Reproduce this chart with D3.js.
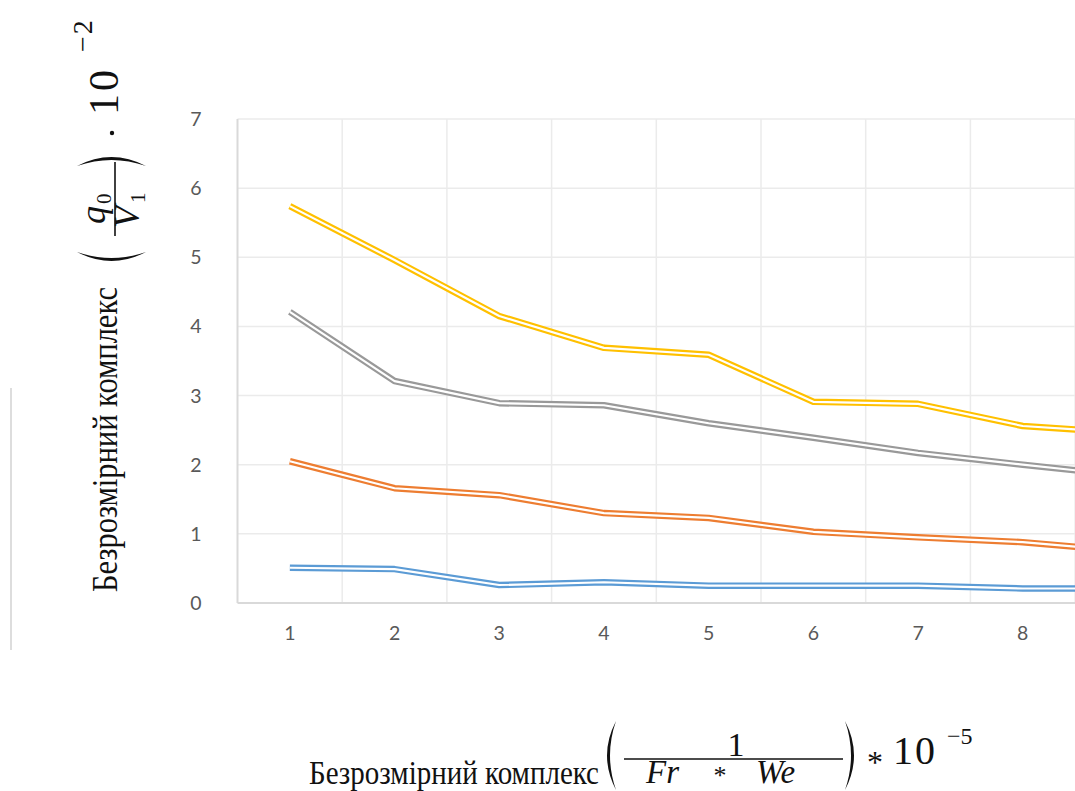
<html>
<head>
<meta charset="utf-8">
<style>
    body {
        margin: 0;
        background: #ffffff;
    }
    .tick-label {
        font-family: Lato, "Open Sans", sans-serif;
        font-size: 19.5px;
        fill: #595959;
    }
    .title {
        font-family: "Liberation Serif", "Times New Roman", serif;
        fill: #111111;
    }
    .math {
        font-family: "Liberation Serif", "Times New Roman", serif;
        font-style: italic;
        fill: #111111;
    }
</style>
</head>
<body>
<svg id="chart"></svg>
<script src="https://cdn.jsdelivr.net/npm/d3@7"></script>
<script>
    // values (units of 10^-2)
    let categories = [1, 2, 3, 4, 5, 6, 7, 8, 9];
    let blueValues = [0.51, 0.49, 0.26, 0.30, 0.25, 0.25, 0.25, 0.21, 0.21];
    let orangeValues = [2.05, 1.66, 1.56, 1.30, 1.23, 1.03, 0.95, 0.88, 0.75];
    let grayValues = [4.21, 3.21, 2.89, 2.86, 2.60, 2.39, 2.17, 2.00, 1.84];
    let yellowValues = [5.74, 4.96, 4.15, 3.69, 3.59, 2.91, 2.88, 2.56, 2.46];
    let yTicks = [0, 1, 2, 3, 4, 5, 6, 7];

    let seriesList = [
        {name: "blue", values: blueValues, color: "#5b9bd5"},
        {name: "orange", values: orangeValues, color: "#ed7d31"},
        {name: "gray", values: grayValues, color: "#999999"},
        {name: "yellow", values: yellowValues, color: "#ffc000"}
    ];

    function getConfig() {
        let width = 1075;
        let height = 791;
        let plot = {left: 237.5, top: 119, bottom: 603, step: 104.7};
        let container = d3.select("#chart")
            .attr("width", width)
            .attr("height", height)
            .style("display", "block");
        return {width, height, plot, container};
    }

    function getScales(config) {
        let {plot} = config;
        let xScale = d3.scaleBand()
            .domain(categories)
            .range([plot.left, plot.left + plot.step * categories.length]);
        let yScale = d3.scaleLinear()
            .domain([0, 7])
            .range([plot.bottom, plot.top]);
        return {xScale, yScale};
    }

    function drawGrid(scales, config) {
        let {xScale, yScale} = scales;
        let {container, plot} = config;
        let grid = container.append("g");

        grid.selectAll(".hgrid")
            .data(yTicks.filter(t => t > 0))
            .enter().append("line")
            .attr("x1", plot.left)
            .attr("x2", config.width)
            .attr("y1", d => yScale(d))
            .attr("y2", d => yScale(d))
            .attr("stroke", "#ebebeb")
            .attr("stroke-width", 1.5);

        grid.selectAll(".vgrid")
            .data(categories.slice(1))
            .enter().append("line")
            .attr("x1", d => xScale(d))
            .attr("x2", d => xScale(d))
            .attr("y1", plot.top)
            .attr("y2", plot.bottom)
            .attr("stroke", "#ebebeb")
            .attr("stroke-width", 1.5);

        // axis lines
        grid.append("line")
            .attr("x1", plot.left).attr("x2", plot.left)
            .attr("y1", plot.top).attr("y2", plot.bottom)
            .attr("stroke", "#d9d9d9").attr("stroke-width", 2);
        grid.append("line")
            .attr("x1", plot.left).attr("x2", config.width)
            .attr("y1", plot.bottom).attr("y2", plot.bottom)
            .attr("stroke", "#d9d9d9").attr("stroke-width", 2);
    }

    function drawTickLabels(scales, config) {
        let {xScale, yScale} = scales;
        let {container} = config;
        let xCenter = d => xScale(d) + xScale.bandwidth() / 2;

        container.append("g").selectAll("text")
            .data(yTicks)
            .enter().append("text")
            .attr("class", "tick-label")
            .attr("x", 196)
            .attr("y", d => yScale(d))
            .attr("dy", "0.36em")
            .attr("text-anchor", "middle")
            .text(d => d);

        // the last category sits past the right edge of the page
        container.append("g").selectAll("text")
            .data(categories.filter(d => xCenter(d) < config.width))
            .enter().append("text")
            .attr("class", "tick-label")
            .attr("x", xCenter)
            .attr("y", 633)
            .attr("dy", "0.36em")
            .attr("text-anchor", "middle")
            .text(d => d);
    }

    function drawLines(scales, config) {
        let {xScale, yScale} = scales;
        let {container} = config;
        let line = d3.line()
            .x((d, i) => xScale(categories[i]) + xScale.bandwidth() / 2)
            .y(d => yScale(d));

        let groups = container.append("g").selectAll("g")
            .data(seriesList)
            .enter().append("g");

        // double line: coloured band with a white core
        groups.append("path")
            .attr("d", d => line(d.values))
            .attr("fill", "none")
            .attr("stroke", d => d.color)
            .attr("stroke-width", 6.5)
            .attr("stroke-linejoin", "round");
        groups.append("path")
            .attr("d", d => line(d.values))
            .attr("fill", "none")
            .attr("stroke", "#ffffff")
            .attr("stroke-width", 2.2)
            .attr("stroke-linejoin", "round");
    }

    // thin crescent-shaped bracket; dir = +1 for "(", -1 for ")"
    function bracket(g, xTip, yTop, yBottom, bulge, dir) {
        let mid = (yTop + yBottom) / 2;
        let p = d3.path();
        p.moveTo(xTip, yTop);
        p.quadraticCurveTo(xTip - dir * bulge * 2, mid, xTip, yBottom);
        p.quadraticCurveTo(xTip - dir * (bulge * 2 - 6), mid, xTip, yTop);
        p.closePath();
        g.append("path").attr("d", p.toString()).attr("fill", "#111");
    }

    function drawXTitle(config) {
        let g = config.container.append("g");
        g.append("text").attr("class", "title")
            .attr("transform", "translate(309,784) scale(1,1.18)")
            .style("font-size", "29px")
            .text("Безрозмірний комплекс");
        bracket(g, 616, 721, 790, 9, 1);
        g.append("text").attr("class", "title")
            .attr("x", 736).attr("y", 756)
            .attr("text-anchor", "middle")
            .style("font-size", "34px")
            .text("1");
        g.append("line")
            .attr("x1", 624).attr("x2", 843)
            .attr("y1", 759).attr("y2", 759)
            .attr("stroke", "#111").attr("stroke-width", 1.6);
        g.append("text").attr("class", "math")
            .attr("x", 646).attr("y", 783)
            .style("font-size", "33px")
            .text("Fr");
        g.append("text").attr("class", "title")
            .attr("x", 720).attr("y", 784)
            .attr("text-anchor", "middle")
            .style("font-size", "26px")
            .text("*");
        g.append("text").attr("class", "math")
            .attr("x", 756).attr("y", 783)
            .style("font-size", "33px")
            .text("We");
        bracket(g, 845, 721, 790, 9, -1);
        g.append("text").attr("class", "title")
            .attr("x", 875).attr("y", 773)
            .attr("text-anchor", "middle")
            .style("font-size", "32px")
            .text("*");
        g.append("text").attr("class", "title")
            .attr("x", 893).attr("y", 764)
            .style("font-size", "40px")
            .style("letter-spacing", "2px")
            .text("10");
        g.append("text").attr("class", "title")
            .attr("x", 947).attr("y", 744)
            .style("font-size", "24px")
            .text("−5");
    }

    function drawYTitle(config) {
        // drawn horizontally, then turned upright along the left edge
        let g = config.container.append("g")
            .attr("transform", "translate(117,592) rotate(-90)");
        g.append("text").attr("class", "title")
            .attr("transform", "scale(1,1.2)")
            .style("font-size", "30.5px")
            .text("Безрозмірний комплекс");
        bracket(g, 340, -40, 29, 9, 1);
        g.append("text").attr("class", "math")
            .attr("x", 368).attr("y", -12)
            .style("font-size", "36px")
            .text("q");
        g.append("text").attr("class", "title")
            .attr("x", 388).attr("y", -6)
            .style("font-size", "21px")
            .text("0");
        g.append("line")
            .attr("x1", 356).attr("x2", 430)
            .attr("y1", -2).attr("y2", -2)
            .attr("stroke", "#111").attr("stroke-width", 1.6);
        g.append("text").attr("class", "math")
            .attr("x", 364).attr("y", 22)
            .style("font-size", "36px")
            .text("V");
        g.append("text").attr("class", "title")
            .attr("x", 389).attr("y", 28)
            .style("font-size", "21px")
            .text("1");
        bracket(g, 426, -40, 29, 9, -1);
        g.append("circle")
            .attr("cx", 459).attr("cy", -5).attr("r", 2.2)
            .attr("fill", "#111");
        g.append("text").attr("class", "title")
            .attr("x", 477).attr("y", 1)
            .style("font-size", "42px")
            .style("letter-spacing", "3px")
            .text("10");
        g.append("text").attr("class", "title")
            .attr("x", 540).attr("y", -25)
            .style("font-size", "28px")
            .style("letter-spacing", "2px")
            .text("−2");
    }

    function drawChart() {
        let config = getConfig();
        let scales = getScales(config);
        drawGrid(scales, config);
        drawTickLabels(scales, config);
        drawLines(scales, config);
        drawXTitle(config);
        drawYTitle(config);

        // thin rule at the far left of the page
        config.container.append("line")
            .attr("x1", 11).attr("x2", 11)
            .attr("y1", 388).attr("y2", 650)
            .attr("stroke", "#dddddd").attr("stroke-width", 2);
    }

    drawChart();
</script>
</body>
</html>
